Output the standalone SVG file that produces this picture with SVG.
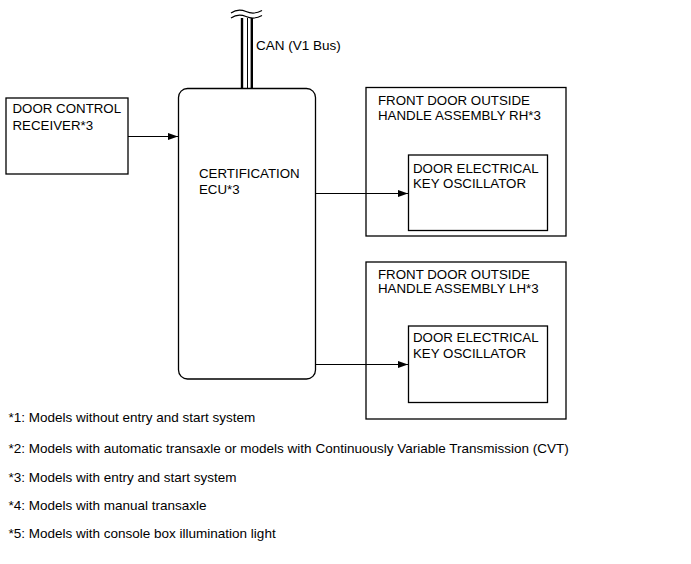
<svg xmlns="http://www.w3.org/2000/svg" width="691" height="564" viewBox="0 0 691 564">
<style>
text{font-family:"Liberation Sans",Arial,sans-serif;font-size:13.3px;fill:#000}
.box{fill:#fff;stroke:#000;stroke-width:1.3}
.ln{stroke:#000;stroke-width:1.2;fill:none}
.fn{font-size:13.5px}
</style>
<defs>
<marker id="ah" markerWidth="10" markerHeight="8" refX="10" refY="4" orient="auto" markerUnits="userSpaceOnUse">
<path d="M0,0.5 L10,4 L0,7.5 Z" fill="#000"/>
</marker>
</defs>
<g id="can">
<line x1="242" y1="18" x2="242" y2="89" stroke="#000" stroke-width="2.4"/>
<line x1="247.5" y1="18" x2="247.5" y2="89" stroke="#000" stroke-width="1"/>
<line x1="251.8" y1="18" x2="251.8" y2="89" stroke="#000" stroke-width="2.4"/>
<path class="ln" d="M231,13 Q238,8 246,11.5 T262,10.5" stroke-width="1"/>
<path class="ln" d="M231,18 Q238,13 246,16.5 T262,15.5" stroke-width="1"/>
<text class="fn" x="256" y="50">CAN (V1 Bus)</text>
</g>
<g id="door-control-receiver">
<rect class="box" x="6" y="98" width="122" height="76"/>
<text x="12.5" y="113">DOOR CONTROL</text>
<text x="12.5" y="130">RECEIVER*3</text>
</g>
<g id="certification-ecu">
<rect class="box" x="178.5" y="88.5" width="137" height="290.5" rx="9" ry="9"/>
<text x="199" y="178">CERTIFICATION</text>
<text x="199" y="194">ECU*3</text>
</g>
<g id="handle-rh">
<rect class="box" x="366" y="87.5" width="200" height="148.5"/>
<text x="378" y="105">FRONT DOOR OUTSIDE</text>
<text x="378" y="120">HANDLE ASSEMBLY RH*3</text>
</g>
<g id="oscillator-rh">
<rect class="box" x="408.5" y="155" width="139" height="75.5"/>
<text x="413" y="173">DOOR ELECTRICAL</text>
<text x="413" y="188">KEY OSCILLATOR</text>
</g>
<g id="handle-lh">
<rect class="box" x="366" y="262" width="200" height="157"/>
<text x="378" y="278.5">FRONT DOOR OUTSIDE</text>
<text x="378" y="293">HANDLE ASSEMBLY LH*3</text>
</g>
<g id="oscillator-lh">
<rect class="box" x="408.5" y="326" width="139" height="76.5"/>
<text x="413" y="342">DOOR ELECTRICAL</text>
<text x="413" y="357.5">KEY OSCILLATOR</text>
</g>
<g id="connectors">
<line class="ln" x1="128" y1="136.5" x2="178" y2="136.5" marker-end="url(#ah)"/>
<line class="ln" x1="315.5" y1="193.5" x2="408" y2="193.5" marker-end="url(#ah)"/>
<line class="ln" x1="315.5" y1="364.5" x2="408" y2="364.5" marker-end="url(#ah)"/>
</g>
<g id="notes">
<text class="fn" x="8.5" y="421.5">*1: Models without entry and start system</text>
<text class="fn" x="8.5" y="452.5">*2: Models with automatic transaxle or models with Continuously Variable Transmission (CVT)</text>
<text class="fn" x="8.5" y="481.5">*3: Models with entry and start system</text>
<text class="fn" x="8.5" y="510">*4: Models with manual transaxle</text>
<text class="fn" x="8.5" y="538">*5: Models with console box illumination light</text>
</g>
</svg>
